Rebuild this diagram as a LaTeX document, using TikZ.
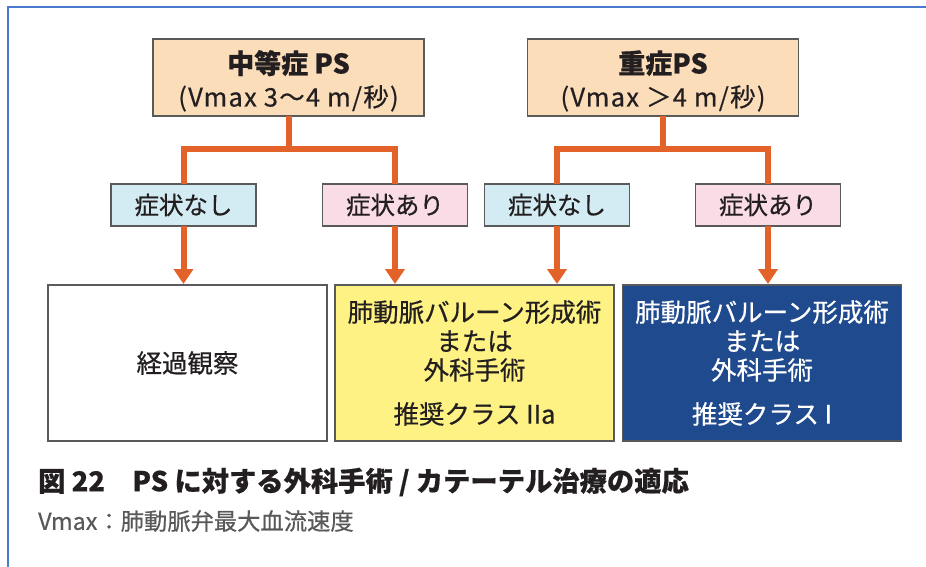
\documentclass[tikz,border=0pt]{standalone}
\usepackage{fontspec}
\setmainfont{Noto Sans CJK JP}[FakeBold=0.5]
\usetikzlibrary{arrows.meta}
\definecolor{frameblue}{HTML}{4A7BD0}
\definecolor{peach}{HTML}{FCDDBA}
\definecolor{lblue}{HTML}{D3ECF3}
\definecolor{lpink}{HTML}{F9DCE5}
\definecolor{lyellow}{HTML}{FDF283}
\definecolor{dblue}{HTML}{1F4A8E}
\definecolor{orng}{HTML}{E2622A}
\definecolor{txt}{HTML}{231F20}
\definecolor{bord}{HTML}{5A5A5A}
\newcommand{\titleline}[1]{{\rule{0pt}{30pt}\fontsize{27}{33}\selectfont\bfseries #1}}
\newcommand{\rangeline}[1]{{\addfontfeature{LetterSpace=5}#1}}
\tikzset{
  box/.style={draw=bord, line width=1.3pt, inner sep=0pt, outer sep=0pt, text=txt, align=center},
  topbox/.style={box, fill=peach, minimum width=271pt, minimum height=77pt, font=\fontsize{25.5}{33}\selectfont},
  smallbox/.style={box, minimum width=145pt, minimum height=42pt, font=\fontsize{24.5}{28}\selectfont},
  bigbox/.style={box, minimum width=279pt, minimum height=156pt, font=\fontsize{25.5}{29}\selectfont},
  branch/.style={draw=orng, line width=6pt},
  arr/.style={draw=orng, line width=6pt, -{Triangle[width=19pt,length=15pt]}, shorten >=1pt},
}
\begin{document}
\begin{tikzpicture}[x=1pt,y=-1pt]
\useasboundingbox (0,0) rectangle (926,567);
\fill[white] (0,0) rectangle (926,567);
\draw[frameblue, line width=2pt] (8,567) -- (8,7) -- (926,7);

\node[topbox] (A) at (288.5,77.5) {\titleline{中等症 PS}\\\rangeline{(Vmax 3〜4 m/秒)}};
\node[topbox] (B) at (663,77.5) {\titleline{重症PS}\\\rangeline{(Vmax ＞4 m/秒)}};

\node[smallbox, fill=lblue] (n1) at (183.5,205) {症状なし};
\node[smallbox, fill=lpink] (a1) at (395,205) {症状あり};
\node[smallbox, fill=lblue] (n2) at (557,205) {症状なし};
\node[smallbox, fill=lpink] (a2) at (768,205) {症状あり};

\node[bigbox, fill=white] (W) at (187.5,363) {経過観察};
\node[bigbox, fill=lyellow] (Y) at (474.5,363) {肺動脈バルーン形成術\\または\\外科手術\\[15pt]推奨クラス IIa};
\node[bigbox, fill=dblue, text=white] (Bl) at (762,363) {肺動脈バルーン形成術\\または\\外科手術\\[15pt]推奨クラス I};

\coordinate (jA) at (288.5,149);
\coordinate (jB) at (663,149);
\draw[branch] (A.south) -- (jA);
\draw[branch] (n1.north) |- (jA) -| (a1.north);
\draw[branch] (B.south) -- (jB);
\draw[branch] (n2.north) |- (jB) -| (a2.north);

\draw[arr] (n1.south) -- (n1.south |- W.north);
\draw[arr] (a1.south) -- (a1.south |- Y.north);
\draw[arr] (n2.south) -- (n2.south |- Y.north);
\draw[arr] (a2.south) -- (a2.south |- Bl.north);

\node[anchor=west, inner sep=0pt, text=txt, font=\fontsize{27.3}{32}\selectfont\bfseries] (cap) at (38,482) {図 22　PS に対する外科手術 / カテーテル治療の適応};
\node[anchor=west, inner sep=0pt, text=black!65, font=\fontsize{23.3}{28}\selectfont] (sub) at (38,521) {Vmax：肺動脈弁最大血流速度};
\end{tikzpicture}
\end{document}
